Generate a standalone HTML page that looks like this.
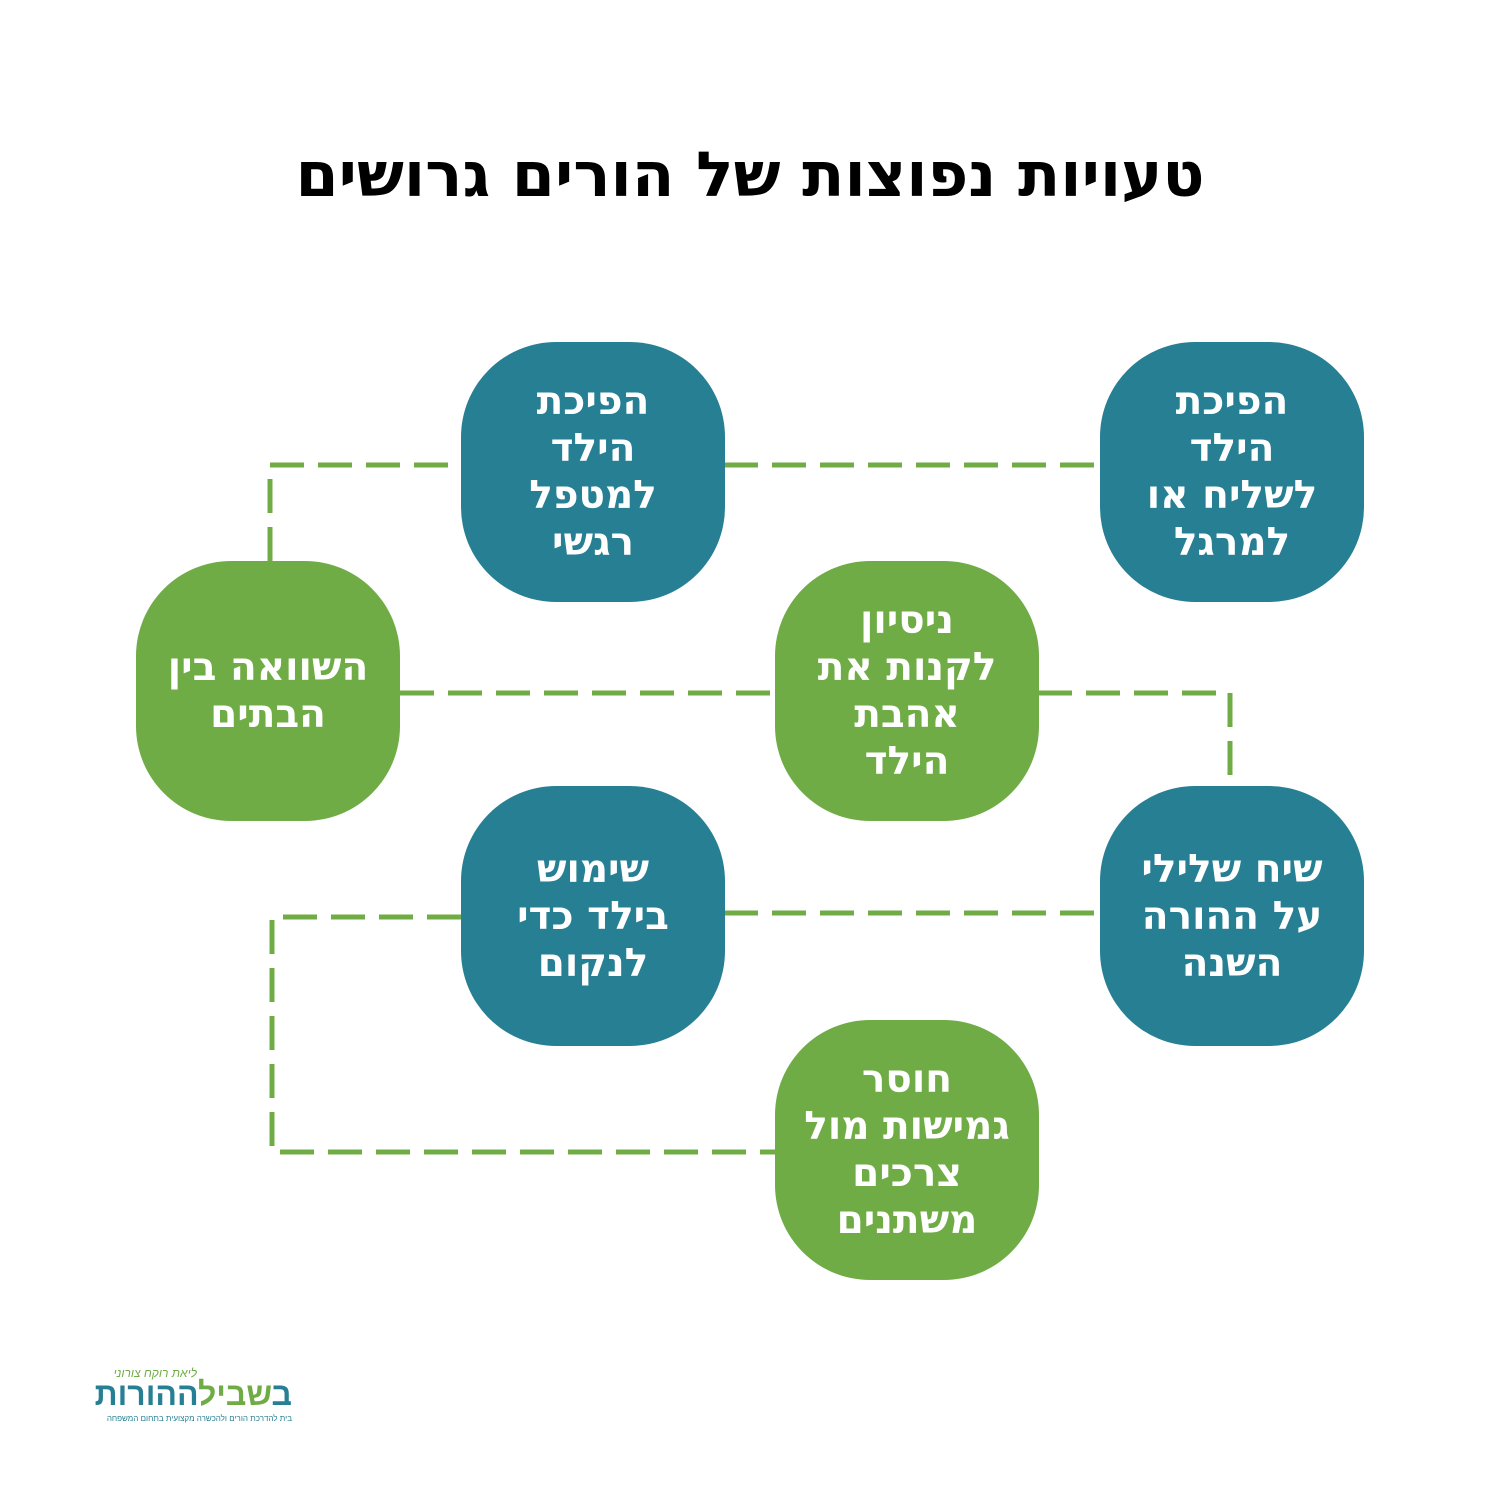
<!DOCTYPE html>
<html><head><meta charset="utf-8"><style>
body{margin:0;width:1500px;height:1500px;background:#fff;position:relative;overflow:hidden;font-family:"DejaVu Sans","Liberation Sans",sans-serif;}
.t{position:absolute;left:0;width:1500px;top:140px;text-align:center;font-size:62px;font-weight:bold;color:#000;direction:rtl;line-height:70px;}
.n{position:absolute;width:264px;height:260px;border-radius:95px;display:flex;align-items:center;justify-content:center;text-align:center;color:#fff;font-weight:bold;font-size:39px;line-height:47px;direction:rtl;}
.b{background:#277f93}.g{background:#70ac46}
svg{position:absolute;left:0;top:0}
</style></head><body>
<div class="t">טעויות נפוצות של הורים גרושים</div>
<svg width="1500" height="1500"><g stroke="#70ac46" stroke-width="5" fill="none" stroke-dasharray="34 14">
<path d="M270 561 V465 H461"/><path d="M724 465 H1100"/>
<path d="M400 693 H775"/><path d="M1038 693 H1230 V786"/>
<path d="M724 913 H1105"/>
<path d="M461 917 H272 V1152 H775"/>
</g></svg>
<div class="n b" style="left:461px;top:342px">הפיכת<br>הילד<br>למטפל<br>רגשי</div>
<div class="n b" style="left:1100px;top:342px">הפיכת<br>הילד<br>לשליח או<br>למרגל</div>
<div class="n g" style="left:136px;top:561px">השוואה בין<br>הבתים</div>
<div class="n g" style="left:775px;top:561px">ניסיון<br>לקנות את<br>אהבת<br>הילד</div>
<div class="n b" style="left:461px;top:786px">שימוש<br>בילד כדי<br>לנקום</div>
<div class="n b" style="left:1100px;top:786px">שיח שלילי<br>על ההורה<br>השנה</div>
<div class="n g" style="left:775px;top:1020px">חוסר<br>גמישות מול<br>צרכים<br>משתנים</div>
<div style="position:absolute;left:96px;top:1356px;width:196px;direction:rtl;font-family:'Liberation Sans',sans-serif">
<div style="position:absolute;right:95px;top:10px;font-size:12px;color:#70ac46;font-style:italic">ליאת רוקח צורוני</div>
<div style="position:absolute;right:0;top:20px;font-size:32px;font-weight:bold;color:#277f93;line-height:36px;white-space:nowrap"><span>ב</span><span style="color:#70ac46">שביל</span>ההורות</div>
<div style="position:absolute;right:0;top:58px;font-size:8px;color:#277f93;white-space:nowrap">בית להדרכת הורים ולהכשרה מקצועית בתחום המשפחה</div>
</div>
</body></html>
